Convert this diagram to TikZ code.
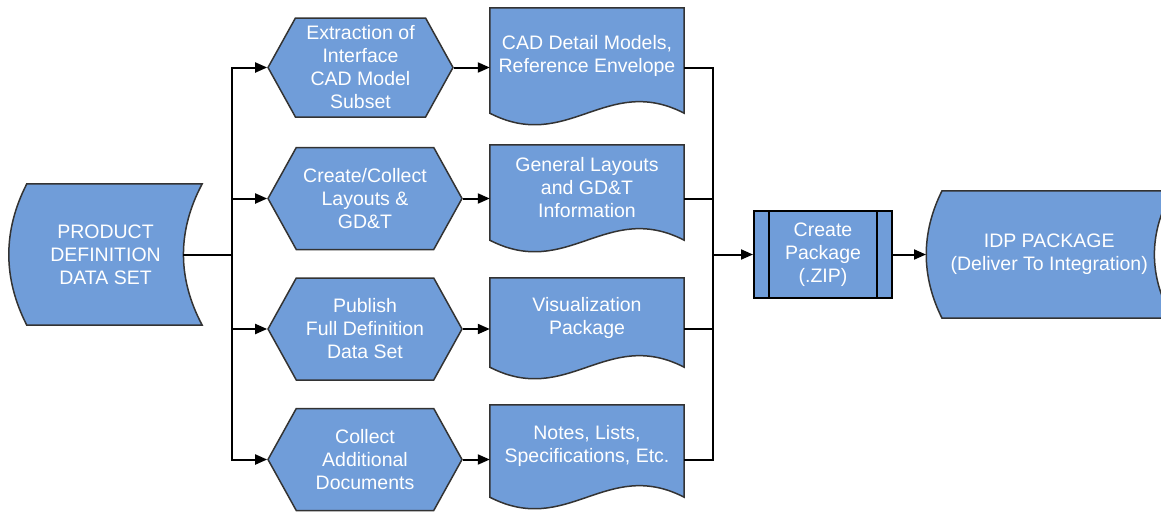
\documentclass[tikz,border=0pt]{standalone}
\usepackage{fontspec}
\setmainfont{Liberation Sans}
\usetikzlibrary{positioning,calc,shapes.symbols,arrows.meta,backgrounds}
\definecolor{boxblue}{RGB}{112,157,217}

\begin{document}
\begin{tikzpicture}
    [x=1pt,y=-1pt,font=\fontsize{19.5}{23}\selectfont,
    every node/.style={text=white,align=center,inner sep=0pt},
    flowbox/.style={draw=black!80,line width=1.5pt,fill=boxblue},
    prep/.style={flowbox,signal,signal to=west and east,signal pointer angle=122,
        minimum width=194pt,minimum height=102pt},
    doc/.style={minimum width=194pt},
    pkg/.style={rectangle,draw=black,line width=2pt,fill=boxblue,
        minimum width=138pt,minimum height=87pt,
        path picture={
            \draw[line width=2pt] ($(path picture bounding box.north west)+(15,0)$) -- ($(path picture bounding box.south west)+(15,0)$);
            \draw[line width=2pt] ($(path picture bounding box.north east)+(-15,0)$) -- ($(path picture bounding box.south east)+(-15,0)$);}},
    link/.style={line width=2pt},
    arr/.style={link,-{Triangle[length=12pt,width=10pt]}}]
    \useasboundingbox (0,0) rectangle (1161,512);
    % source data set
    \node[minimum width=193pt,minimum height=141pt] (pdds) at (105.5,254.5) {PRODUCT\\DEFINITION\\DATA SET};
    % preparation steps
    \node[prep,minimum width=185pt,minimum height=99pt] (hex1) at (360.5,67.5) {Extraction of\\Interface\\CAD Model\\Subset};
    \node[prep] (hex2) at (365,198.5) {Create/Collect\\Layouts \&\\GD\&T};
    \node[prep] (hex3) at (365,329) {Publish\\Full Definition\\Data Set};
    \node[prep] (hex4) at (365,459.5) {Collect\\Additional\\Documents};
    % documents
    \node[doc,minimum height=95pt] (doc1) at (587,55.5) {CAD Detail Models,\\Reference Envelope};
    \node[doc,minimum height=85pt] (doc2) at (587,187.5) {General Layouts\\and GD\&T\\Information};
    \node[doc,minimum height=79pt] (doc3) at (587,317.5) {Visualization\\Package};
    \node[doc,minimum height=82pt] (doc4) at (587,446) {Notes, Lists,\\Specifications, Etc.};
    % package and delivery
    \coordinate (split) at (232,254.5);
    \coordinate (merge) at (713,254.5);
    \node[pkg,right=40pt of merge] (pkg) {Create\\Package\\(.ZIP)};
    \node[minimum width=246pt,minimum height=127pt,right=33pt of pkg] (idp) {IDP PACKAGE\\(Deliver To Integration)};

    \begin{scope}[on background layer]
        \clip (0,0) rectangle (1161,512);
        \path[flowbox] ($(pdds.north west)+(18,0)$) -- (pdds.north east)
            .. controls ($(pdds.north east)+(-25,47)$) and ($(pdds.south east)+(-25,-47)$) .. (pdds.south east)
            -- ($(pdds.south west)+(18,0)$)
            .. controls ($(pdds.south west)+(-6,-47)$) and ($(pdds.north west)+(-6,47)$) .. cycle;
        \path[flowbox] ($(idp.north west)+(16,0)$) -- (idp.north east)
            .. controls ($(idp.north east)+(-24,42)$) and ($(idp.south east)+(-24,-42)$) .. (idp.south east)
            -- ($(idp.south west)+(16,0)$)
            .. controls ($(idp.south west)+(-5,-42)$) and ($(idp.north west)+(-5,42)$) .. cycle;
        \foreach \d in {doc1,doc2,doc3,doc4}
            \path[flowbox] (\d.north west) -- (\d.north east) -- ($(\d.south east)+(0,10)$)
                .. controls ($(\d.south west)!0.6!(\d.south east)+(0,-30)$) and ($(\d.south west)!0.4!(\d.south east)+(0,50)$)
                .. ($(\d.south west)+(0,10)$) -- cycle;
    \end{scope}

    \coordinate (pdds-out) at ($(pdds.east)+(-19,0)$);
    \draw[link] (pdds-out) -- (split);
    \foreach \h/\d in {hex1/doc1,hex2/doc2,hex3/doc3,hex4/doc4}{
        \draw[arr] (split) |- (\h.west);
        \draw[arr] (\h.east) -- (\h.east -| \d.west);
        \draw[link] (\h.east -| \d.east) -| (merge);
    }
    \draw[arr] (merge) -- (pkg);
    \draw[arr] (pkg) -- (idp);
\end{tikzpicture}
\end{document}
